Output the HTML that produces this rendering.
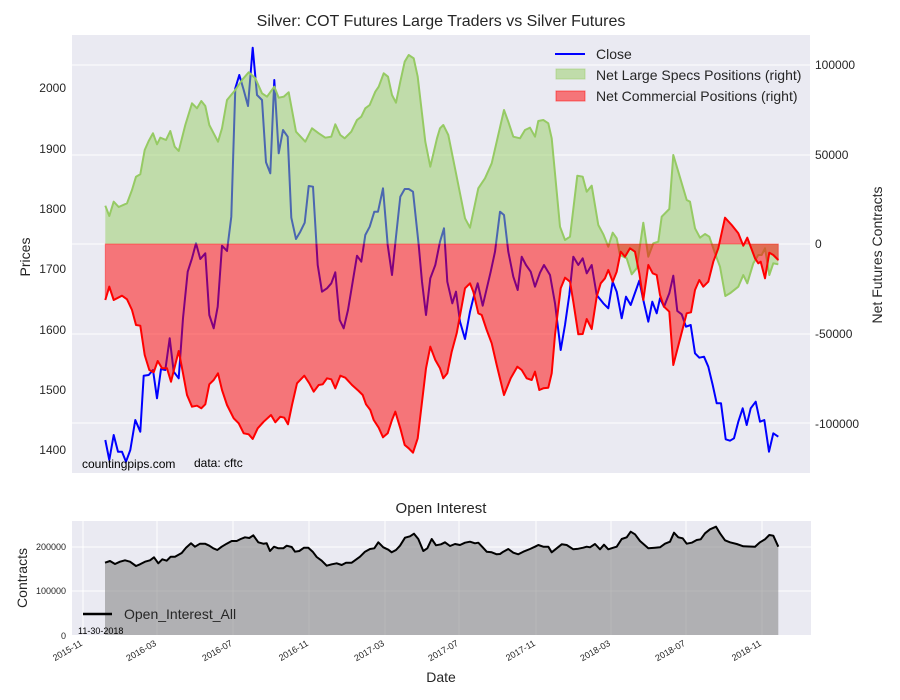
<!DOCTYPE html>
<html><head><meta charset="utf-8"><style>
html,body{margin:0;padding:0;background:#fff;}
svg{display:block;font-family:"Liberation Sans",Arial,sans-serif;}
</style></head><body>
<svg width="900" height="700" viewBox="0 0 900 700" xmlns="http://www.w3.org/2000/svg">
<rect x="0" y="0" width="900" height="700" fill="#fff"/>
<!-- main plot -->
<rect x="72" y="35" width="738" height="438" fill="#eaeaf2"/>
<g stroke="#fff" stroke-width="1">
<line x1="72" x2="810" y1="65" y2="65"/><line x1="72" x2="810" y1="155" y2="155"/>
<line x1="72" x2="810" y1="244" y2="244"/><line x1="72" x2="810" y1="334" y2="334"/>
<line x1="72" x2="810" y1="423" y2="423"/>
</g>
<!-- Close -->
<polyline fill="none" stroke="#0000ff" stroke-width="2" stroke-linejoin="round" points="105.3,440 109.3,460 113.7,435 118,451.7 122,451.7 126,461.7 130.3,450 135.3,420 140.3,431.7 143.7,375.7 148.7,375 153,370 157,398.3 161,369 165.3,370 169.7,338.3 173.7,371.7 178.7,378.3 183,318.3 187.7,271.7 192,258.3 196,243.3 200.3,259 205.3,253.3 209.3,315 213.7,328.3 217.7,306.7 222,245.7 227,251 231.3,216.7 235.3,88.3 239.3,75 243.7,90 248,106 252.7,47.7 257,95 262,100 266,162.3 270.3,173.3 274.3,80 278.7,153.3 283,130 287.7,136.7 291.3,217.7 296,239 300.3,231.7 304.7,222.7 308.7,186 313,186.7 317.7,265 322,291.7 327,288.3 331.3,283.3 335.3,272.3 339.7,320 343.7,328.3 348,310 352.7,281.7 357,255.7 361.3,261.7 365.3,235 369.7,226.7 374.3,211.7 378,211.7 383,188.3 387.7,245 392,275 396,236.7 400.3,196.7 404.7,189 408.7,189 413,191.7 418.7,245 422,281.7 426,315 430.3,278.3 435.3,265 440,241.7 444,228.3 447.3,281.7 452.3,303.3 456,291.7 460,321.7 465,339 470,311.7 473.3,298.3 477.7,283.3 482.7,305.7 490.7,271.7 495,251.7 500,211.7 504,215 508.3,251.7 513.3,276.7 517.7,290 521.7,256.7 526,265 530.7,271.7 535,286.7 540,272.7 544,265 550,275 555,303.3 560.7,350 565,325 569.3,295 573.3,256.7 578.3,265 582.7,258.3 586.7,273.3 591.7,265 596.7,295 603.3,303.3 608.3,308.3 612.7,281.7 616.7,291.7 621.7,318.3 626,296.7 630.7,305 639.3,280.7 643.3,300 648.3,321.7 652.3,301.7 656.7,313.3 660,298.3 664,306.7 669.3,293.3 673.3,275.7 677.3,311 681.7,314.3 686,326.7 690.7,325 695,353.3 699.3,357.7 704,356.7 708.3,366.7 712.7,385 716.7,403.3 721,403.3 725.7,439.3 730,440.7 734,438.3 738.3,421.7 742.7,408.3 746.7,425 750.7,408.3 755.7,401.7 760,421.7 764.3,420 769,451.7 773.3,433.3 778.3,436.7"/>
<!-- Green -->
<g id="green">
<polygon fill="rgb(150,206,98)" fill-opacity="0.5" stroke="none" points="105.3,244 105.3,205.7 109.3,216 113.7,201.7 118.7,207 127,203.3 132,190 136,176.7 140.3,174.3 144.7,150 148.7,141 153,133.3 157,144.3 160.3,137.7 166,140 170.3,131 174.7,146.7 178.7,151 185.3,125 192,103.3 197,108.3 201.3,101 205.3,106 209.3,125 218,141.7 222,128.3 227,100 235.3,90 242,80 248.7,72.3 255.3,78.3 262,93.3 267,96.7 274.3,86.7 278.7,97.7 283.7,96.7 288.7,92.3 296,131.7 305.3,141.7 312,128.3 318.7,133.3 325.3,137.7 331.3,136.7 335.3,124.3 340.3,135 344.7,138.3 351.3,131.7 357,120 361.3,116.7 365.3,108.3 369.7,105 375.3,91.7 378.7,86.7 383.7,73.3 388,76.7 392,95 396,102.7 400.3,81.7 404.7,61.7 408.7,55 413.7,58.3 417.7,76.7 425.3,141.7 430.3,166.7 437,138.3 440,128.3 443.3,125 448.3,135 455,168.3 465,218.3 470,227.7 478.3,188.3 485,178.3 491.7,163.3 496.7,141.7 504,110 508.3,121.7 513.3,136.7 520,138.3 525,130 530,127.7 535,136.7 538.3,121 543.3,120 548.3,123.3 551.7,138.3 560,226.7 565,240 570,236.7 577.3,175.7 582.7,176.7 586.7,191.7 591.7,185.7 598.3,225 603.3,234.3 608.3,246.7 612.7,232.7 616.7,238.3 620,255 626.7,258.3 631.7,274.3 636.7,268.3 643.3,222.7 648.3,256.7 653.3,243.3 658.3,241.7 661.7,216.7 669.3,209 673.3,155 678.3,171.7 686.7,200 690,201.7 695,228.3 700,237.7 705,234 709.3,236.7 715,253.3 720,266.7 725.3,296 730,293.3 738.3,286.7 743.3,275 747.3,283.3 753.3,263.3 758.3,255 761.7,255 765,248.3 769.3,275 773.3,263.3 778.3,264.3 778.3,244"/>
<polyline fill="none" stroke="rgb(150,202,100)" stroke-width="2" stroke-linejoin="round" points="105.3,205.7 109.3,216 113.7,201.7 118.7,207 127,203.3 132,190 136,176.7 140.3,174.3 144.7,150 148.7,141 153,133.3 157,144.3 160.3,137.7 166,140 170.3,131 174.7,146.7 178.7,151 185.3,125 192,103.3 197,108.3 201.3,101 205.3,106 209.3,125 218,141.7 222,128.3 227,100 235.3,90 242,80 248.7,72.3 255.3,78.3 262,93.3 267,96.7 274.3,86.7 278.7,97.7 283.7,96.7 288.7,92.3 296,131.7 305.3,141.7 312,128.3 318.7,133.3 325.3,137.7 331.3,136.7 335.3,124.3 340.3,135 344.7,138.3 351.3,131.7 357,120 361.3,116.7 365.3,108.3 369.7,105 375.3,91.7 378.7,86.7 383.7,73.3 388,76.7 392,95 396,102.7 400.3,81.7 404.7,61.7 408.7,55 413.7,58.3 417.7,76.7 425.3,141.7 430.3,166.7 437,138.3 440,128.3 443.3,125 448.3,135 455,168.3 465,218.3 470,227.7 478.3,188.3 485,178.3 491.7,163.3 496.7,141.7 504,110 508.3,121.7 513.3,136.7 520,138.3 525,130 530,127.7 535,136.7 538.3,121 543.3,120 548.3,123.3 551.7,138.3 560,226.7 565,240 570,236.7 577.3,175.7 582.7,176.7 586.7,191.7 591.7,185.7 598.3,225 603.3,234.3 608.3,246.7 612.7,232.7 616.7,238.3 620,255 626.7,258.3 631.7,274.3 636.7,268.3 643.3,222.7 648.3,256.7 653.3,243.3 658.3,241.7 661.7,216.7 669.3,209 673.3,155 678.3,171.7 686.7,200 690,201.7 695,228.3 700,237.7 705,234 709.3,236.7 715,253.3 720,266.7 725.3,296 730,293.3 738.3,286.7 743.3,275 747.3,283.3 753.3,263.3 758.3,255 761.7,255 765,248.3 769.3,275 773.3,263.3 778.3,264.3"/>
</g>
<!-- Red -->
<polygon fill="#ff0000" fill-opacity="0.5" stroke="#ff0000" stroke-opacity="0.4" stroke-width="1" points="105.3,244 105.3,300 109.3,286.7 113.7,300 122,295.7 127,299.3 132,310 136,325 140.3,325.7 144.7,355 149.3,370 153.7,372.3 157.7,361 162,368.3 167,368.3 171,381.7 178.7,351 182.7,371.7 187,395 192,406.7 197,405.7 201.3,408.3 205.3,404.3 209.3,384.3 213.7,380 218,373.3 222,390 227,405 233.7,418.3 238.7,423.3 243.7,433.3 248.7,434.3 252.7,439 257.7,428.3 263.7,421.7 271,415 275.3,422.3 280.3,416.7 284.3,417.7 288,424.3 292,405 297,383.3 304.3,375.7 309.3,383.3 313.7,391.7 318.7,385 322.7,384.3 327,378.3 331.3,379.3 335.3,388.3 340.3,375.7 345.3,377.7 352,385 358.7,391 362.7,395 366,404.3 370.3,410 373.7,420 378.7,427.7 383,437.3 387.7,433.3 392,420 395.3,411.7 400.3,428.3 404.7,445 408.7,448.3 413,452.7 417.7,438.3 426,368.3 430.3,346.7 435.3,360 440,368.3 443.3,378.3 447.3,373.3 451.7,351.7 456.7,333.3 460.7,311.7 465,288.3 470,283.3 473.3,291.7 478.3,313.3 481.7,315 486.7,330 491.7,343.3 496.7,365 504,395 510.7,378.3 517.3,366.7 521.7,370 526.7,378.3 531.7,380 535,371.7 539.3,390 543.3,388.3 548.3,387.7 551.7,373.3 555,335 560.7,288.3 565,277.7 570,281.7 573.3,301.7 578.3,334.3 582.7,334 586.7,319 591.7,329 596.7,296.7 600.7,283.3 605,278.3 608.3,270 612.7,281.7 616.7,271.7 620.7,251.7 625,256.7 630,248.3 635,251.7 639.3,273.3 643.3,300 648.3,265 652.7,273.3 656.7,275 660,295 664,306.7 669.3,311.7 673.3,365 686.7,313.3 691,312.3 695,290 699.3,280 703.3,286.7 708.3,281.7 713.3,261.7 718.3,248.3 725,217.7 731.7,225 738.3,233.3 743.3,245.7 747.3,237.7 755,258.3 758.3,263.3 760.7,261.7 765,278.3 769.3,252.7 773.3,255 778.3,260 778.3,244"/>
<polyline fill="none" stroke="#ff0000" stroke-width="2" stroke-linejoin="round" points="105.3,300 109.3,286.7 113.7,300 122,295.7 127,299.3 132,310 136,325 140.3,325.7 144.7,355 149.3,370 153.7,372.3 157.7,361 162,368.3 167,368.3 171,381.7 178.7,351 182.7,371.7 187,395 192,406.7 197,405.7 201.3,408.3 205.3,404.3 209.3,384.3 213.7,380 218,373.3 222,390 227,405 233.7,418.3 238.7,423.3 243.7,433.3 248.7,434.3 252.7,439 257.7,428.3 263.7,421.7 271,415 275.3,422.3 280.3,416.7 284.3,417.7 288,424.3 292,405 297,383.3 304.3,375.7 309.3,383.3 313.7,391.7 318.7,385 322.7,384.3 327,378.3 331.3,379.3 335.3,388.3 340.3,375.7 345.3,377.7 352,385 358.7,391 362.7,395 366,404.3 370.3,410 373.7,420 378.7,427.7 383,437.3 387.7,433.3 392,420 395.3,411.7 400.3,428.3 404.7,445 408.7,448.3 413,452.7 417.7,438.3 426,368.3 430.3,346.7 435.3,360 440,368.3 443.3,378.3 447.3,373.3 451.7,351.7 456.7,333.3 460.7,311.7 465,288.3 470,283.3 473.3,291.7 478.3,313.3 481.7,315 486.7,330 491.7,343.3 496.7,365 504,395 510.7,378.3 517.3,366.7 521.7,370 526.7,378.3 531.7,380 535,371.7 539.3,390 543.3,388.3 548.3,387.7 551.7,373.3 555,335 560.7,288.3 565,277.7 570,281.7 573.3,301.7 578.3,334.3 582.7,334 586.7,319 591.7,329 596.7,296.7 600.7,283.3 605,278.3 608.3,270 612.7,281.7 616.7,271.7 620.7,251.7 625,256.7 630,248.3 635,251.7 639.3,273.3 643.3,300 648.3,265 652.7,273.3 656.7,275 660,295 664,306.7 669.3,311.7 673.3,365 686.7,313.3 691,312.3 695,290 699.3,280 703.3,286.7 708.3,281.7 713.3,261.7 718.3,248.3 725,217.7 731.7,225 738.3,233.3 743.3,245.7 747.3,237.7 755,258.3 758.3,263.3 760.7,261.7 765,278.3 769.3,252.7 773.3,255 778.3,260"/>
<!-- legend -->
<line x1="555" x2="585" y1="54" y2="54" stroke="#0000ff" stroke-width="2"/>
<rect x="556" y="69" width="29" height="10" fill="rgb(150,206,98)" fill-opacity="0.5" stroke="rgb(150,202,100)" stroke-opacity="0.5"/>
<rect x="556" y="91" width="29" height="10" fill="#ff0000" fill-opacity="0.5" stroke="#ff0000" stroke-opacity="0.5"/>
<g font-size="14" fill="#262626">
<text x="596" y="59">Close</text>
<text x="596" y="80">Net Large Specs Positions (right)</text>
<text x="596" y="101">Net Commercial Positions (right)</text>
</g>
<!-- watermark -->
<text x="82" y="468" font-size="12" fill="#000">countingpips.com</text>
<text x="194" y="467" font-size="12" fill="#000">data: cftc</text>
<!-- title -->
<text x="441" y="26" font-size="16" fill="#262626" text-anchor="middle">Silver: COT Futures Large Traders vs Silver Futures</text>
<!-- left ticks -->
<g font-size="12" fill="#262626" text-anchor="end">
<text x="66" y="92">2000</text><text x="66" y="153">1900</text><text x="66" y="213">1800</text>
<text x="66" y="273">1700</text><text x="66" y="334">1600</text><text x="66" y="394">1500</text>
<text x="66" y="454">1400</text>
</g>
<g font-size="12" fill="#262626">
<text x="815" y="69">100000</text><text x="815" y="159">50000</text><text x="815" y="248">0</text>
<text x="815" y="338">-50000</text><text x="815" y="428">-100000</text>
</g>
<text transform="translate(30,257) rotate(-90)" font-size="14" fill="#262626" text-anchor="middle">Prices</text>
<text transform="translate(882,255) rotate(-90)" font-size="14" fill="#262626" text-anchor="middle">Net Futures Contracts</text>

<!-- bottom plot -->
<rect x="72" y="521" width="739" height="114" fill="#eaeaf2"/>
<g stroke="#fff" stroke-width="1">
<line x1="72" x2="811" y1="547" y2="547"/><line x1="72" x2="811" y1="591" y2="591"/>
<line x1="83" x2="83" y1="521" y2="635"/><line x1="157" x2="157" y1="521" y2="635"/>
<line x1="233" x2="233" y1="521" y2="635"/><line x1="309" x2="309" y1="521" y2="635"/>
<line x1="385" x2="385" y1="521" y2="635"/><line x1="459" x2="459" y1="521" y2="635"/>
<line x1="536" x2="536" y1="521" y2="635"/><line x1="611" x2="611" y1="521" y2="635"/>
<line x1="686" x2="686" y1="521" y2="635"/><line x1="762" x2="762" y1="521" y2="635"/>
</g>
<polygon fill="#808080" fill-opacity="0.55" points="105,635 105,562.7 110,561 115,564 120,561.7 125,560.3 130,561.7 136,566 140,564.3 145,561.7 150,560.3 154,557.3 158.3,563.3 162.3,559.3 166.7,560.7 170.7,556.7 175,556.7 181.7,553 186,547.7 191,543.3 195,546.7 200,543.7 205,543.7 209.3,545.7 213.3,548.3 217.3,550 221.7,546.7 226.7,543.7 231.7,541 236.7,541 240.7,539 245,537.3 249.3,538 253.3,535.3 258.3,542.3 263.3,543.7 266.7,543.3 270,551 274,546.7 278.3,548.3 283.3,548.3 286.7,545.7 291.7,547 295,551.7 299.3,551 304,547.7 308.3,547.7 312.7,551.7 316.7,557 321.7,560.7 326.7,565.7 331.7,564.3 336.7,563.3 341.7,565 346,562.7 351.7,562.7 355,560.3 360,556.7 365,551.7 370,549 374.3,548.3 378.3,542.3 383.3,547.3 388.3,549.7 391.7,552.3 396,550 400,545.7 405,537.7 410,536.3 414,533.7 418.3,539 423.3,551 427.3,548.3 431.7,539 436,545.3 441,544.3 445,542.3 450,546 455,544 460,545 465,542.7 470,541.7 475,543.3 478.3,542.7 482.7,547.3 486.7,551.7 491.7,552.3 496.7,554.3 500,554 503.3,551.7 508.3,549 513.3,552.7 518.3,554.3 523.3,551.7 530,549 535,546.7 538.3,545 543.3,546.7 548.3,546.7 551.7,552.3 556.7,548.3 561.7,544.3 566.7,545 573.3,549.3 578.3,548.7 583.3,547.7 586.7,546.7 590,547.3 595,544 600,549.3 604,544.7 608.3,549.3 613.3,547.7 616.7,546.7 621.7,539 626.7,537.3 630.7,531.7 635,534.3 640,541 648.3,548.3 655,547.7 660,547.3 665,543.7 670,541.7 674,532.7 678.3,537.3 682.7,538.3 686.7,543.7 691.7,542.7 696.7,540 700.7,539.3 705,533.3 710,529.3 716,526.7 720,533.3 725,540.3 730,542.3 736.7,544 743.3,546.3 755,546.7 760,542.3 765,539.3 769.3,535 773.3,535.7 778.3,546.7 778.3,635"/>
<polyline fill="none" stroke="#000" stroke-width="2" stroke-linejoin="round" points="105,562.7 110,561 115,564 120,561.7 125,560.3 130,561.7 136,566 140,564.3 145,561.7 150,560.3 154,557.3 158.3,563.3 162.3,559.3 166.7,560.7 170.7,556.7 175,556.7 181.7,553 186,547.7 191,543.3 195,546.7 200,543.7 205,543.7 209.3,545.7 213.3,548.3 217.3,550 221.7,546.7 226.7,543.7 231.7,541 236.7,541 240.7,539 245,537.3 249.3,538 253.3,535.3 258.3,542.3 263.3,543.7 266.7,543.3 270,551 274,546.7 278.3,548.3 283.3,548.3 286.7,545.7 291.7,547 295,551.7 299.3,551 304,547.7 308.3,547.7 312.7,551.7 316.7,557 321.7,560.7 326.7,565.7 331.7,564.3 336.7,563.3 341.7,565 346,562.7 351.7,562.7 355,560.3 360,556.7 365,551.7 370,549 374.3,548.3 378.3,542.3 383.3,547.3 388.3,549.7 391.7,552.3 396,550 400,545.7 405,537.7 410,536.3 414,533.7 418.3,539 423.3,551 427.3,548.3 431.7,539 436,545.3 441,544.3 445,542.3 450,546 455,544 460,545 465,542.7 470,541.7 475,543.3 478.3,542.7 482.7,547.3 486.7,551.7 491.7,552.3 496.7,554.3 500,554 503.3,551.7 508.3,549 513.3,552.7 518.3,554.3 523.3,551.7 530,549 535,546.7 538.3,545 543.3,546.7 548.3,546.7 551.7,552.3 556.7,548.3 561.7,544.3 566.7,545 573.3,549.3 578.3,548.7 583.3,547.7 586.7,546.7 590,547.3 595,544 600,549.3 604,544.7 608.3,549.3 613.3,547.7 616.7,546.7 621.7,539 626.7,537.3 630.7,531.7 635,534.3 640,541 648.3,548.3 655,547.7 660,547.3 665,543.7 670,541.7 674,532.7 678.3,537.3 682.7,538.3 686.7,543.7 691.7,542.7 696.7,540 700.7,539.3 705,533.3 710,529.3 716,526.7 720,533.3 725,540.3 730,542.3 736.7,544 743.3,546.3 755,546.7 760,542.3 765,539.3 769.3,535 773.3,535.7 778.3,546.7"/>
<line x1="83" x2="112" y1="614" y2="614" stroke="#000" stroke-width="2.5"/>
<text x="124" y="619" font-size="14" fill="#262626">Open_Interest_All</text>
<text x="78" y="634" font-size="9" fill="#000">11-30-2018</text>
<text x="441" y="513" font-size="15" fill="#262626" text-anchor="middle">Open Interest</text>
<g font-size="9" fill="#262626" text-anchor="end">
<text x="66" y="550">200000</text><text x="66" y="594">100000</text><text x="66" y="639">0</text>
</g>
<g font-size="9" fill="#262626" text-anchor="end">
<text transform="translate(83,645) rotate(-30)">2015-11</text>
<text transform="translate(157,645) rotate(-30)">2016-03</text>
<text transform="translate(233,645) rotate(-30)">2016-07</text>
<text transform="translate(309,645) rotate(-30)">2016-11</text>
<text transform="translate(385,645) rotate(-30)">2017-03</text>
<text transform="translate(459,645) rotate(-30)">2017-07</text>
<text transform="translate(536,645) rotate(-30)">2017-11</text>
<text transform="translate(611,645) rotate(-30)">2018-03</text>
<text transform="translate(686,645) rotate(-30)">2018-07</text>
<text transform="translate(762,645) rotate(-30)">2018-11</text>
</g>
<text transform="translate(27,578) rotate(-90)" font-size="14" fill="#262626" text-anchor="middle">Contracts</text>
<text x="441" y="682" font-size="14" fill="#262626" text-anchor="middle">Date</text>
</svg>
</body></html>
